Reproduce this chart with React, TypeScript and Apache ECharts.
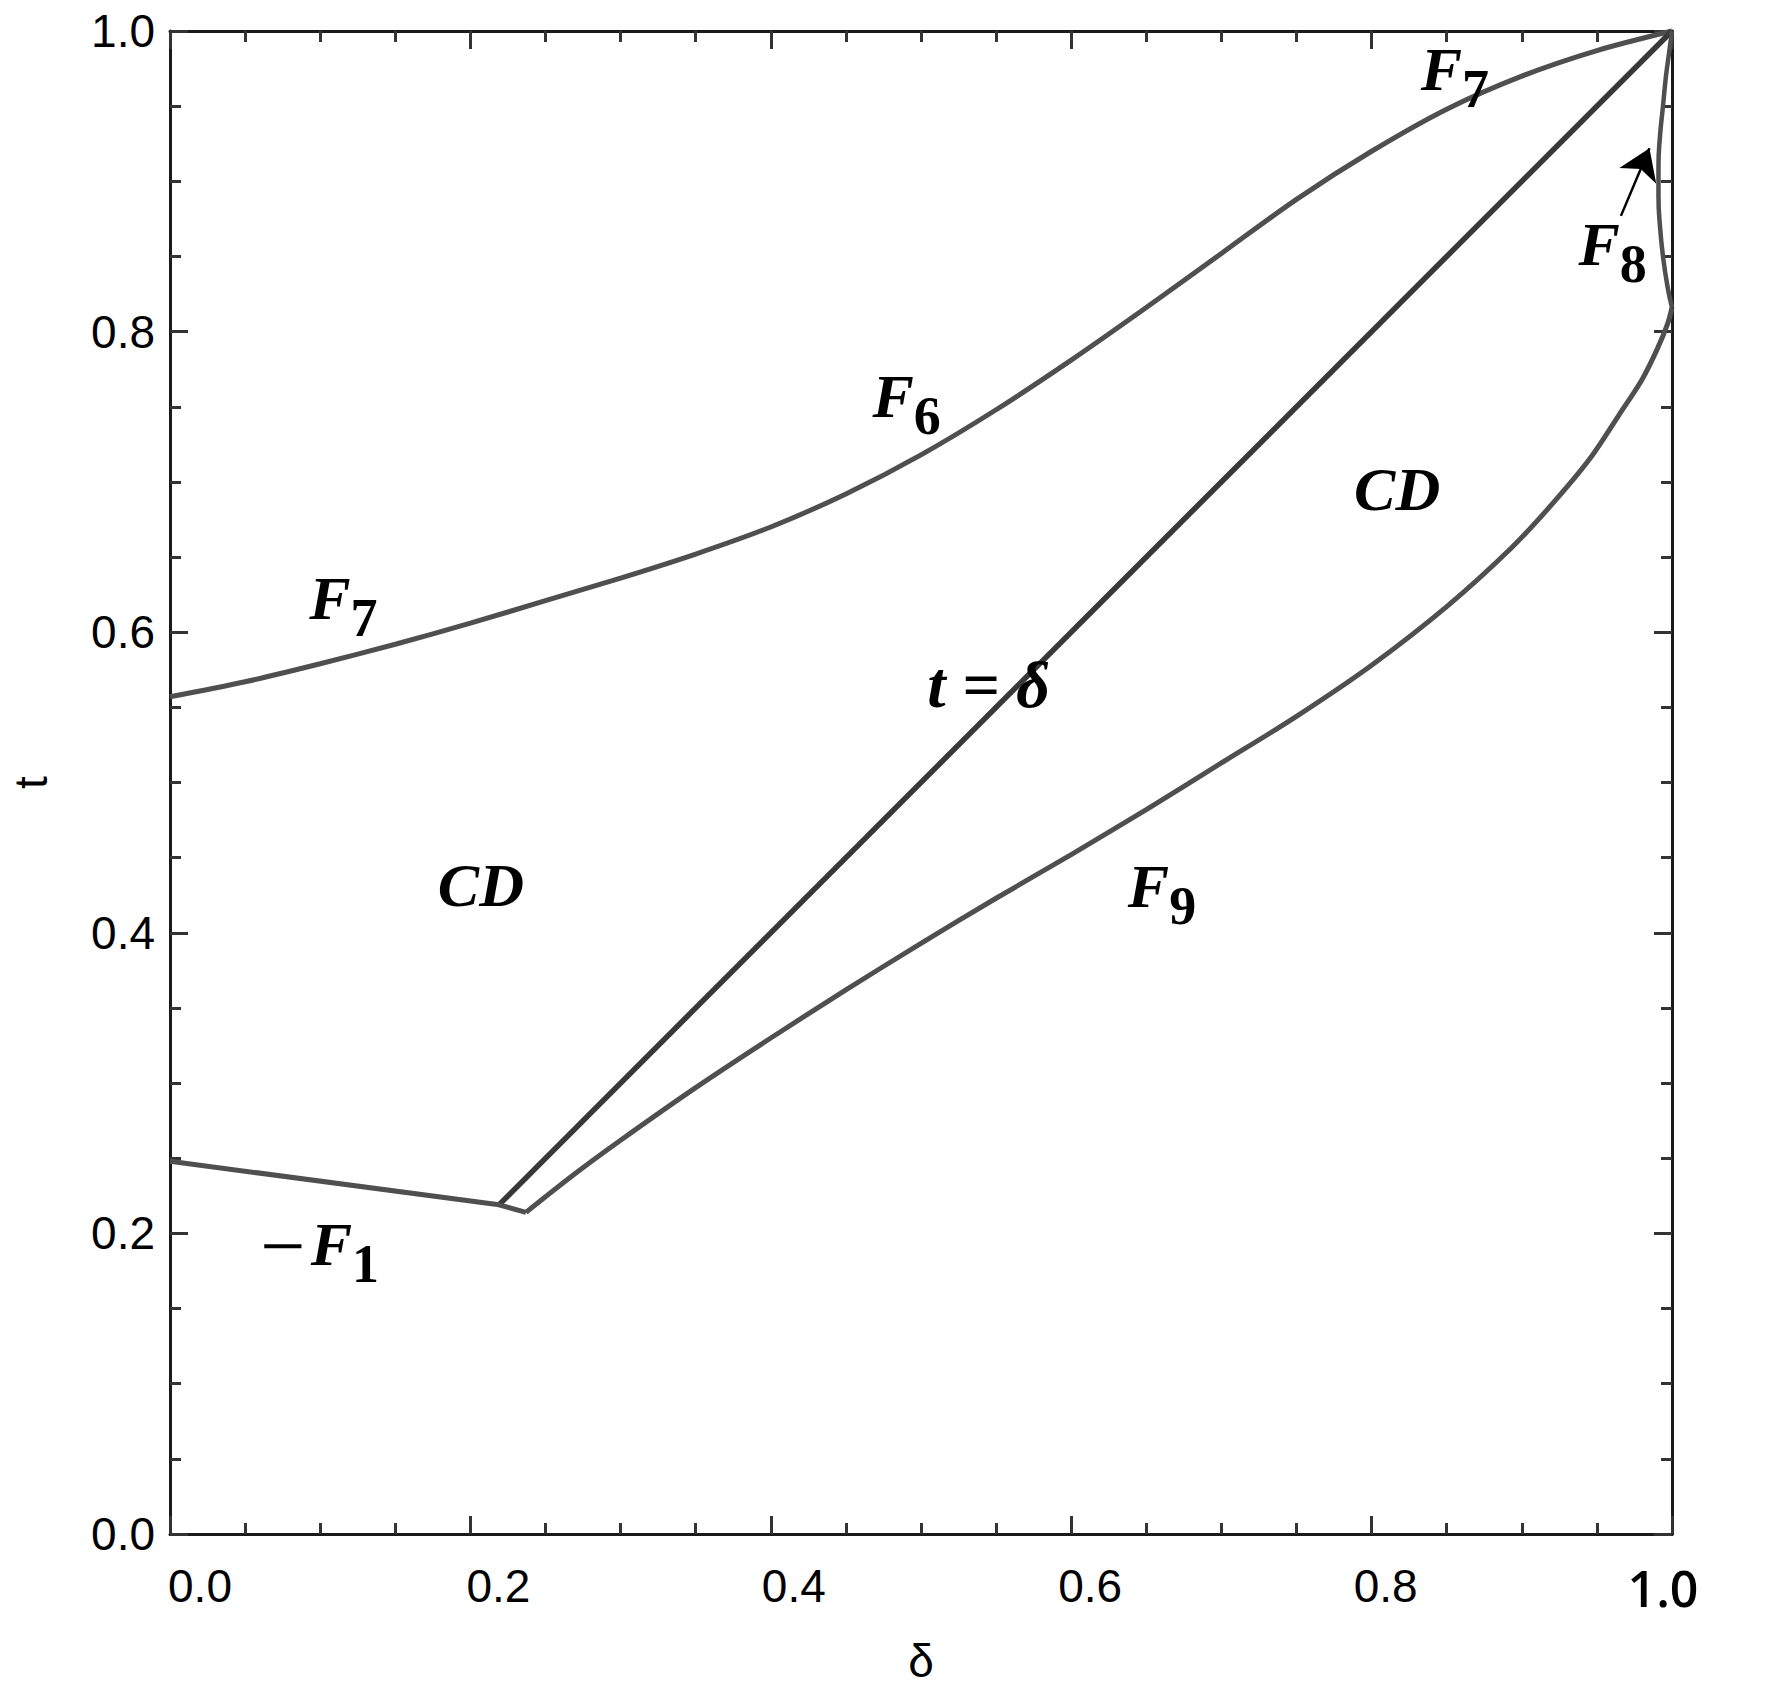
import React, { useEffect, useRef } from "react";
import * as echarts from "echarts";

// Upper boundary curve (labelled F7 / F6 / F7)
const upperDelta = [0, 0.05, 0.1, 0.15, 0.2, 0.25, 0.3, 0.35, 0.4, 0.45, 0.5, 0.55, 0.6, 0.65, 0.7, 0.75, 0.8, 0.85, 0.9, 0.95, 1.0];
const upperT = [0.557, 0.567, 0.579, 0.592, 0.606, 0.621, 0.636, 0.652, 0.67, 0.692, 0.718, 0.748, 0.781, 0.816, 0.852, 0.888, 0.92, 0.948, 0.97, 0.987, 1.0];

// Diagonal t = δ
const diagDelta = [0.219, 1.0];
const diagT = [0.219, 1.0];

// −F1 segment
const f1Delta = [0, 0.219, 0.237];
const f1T = [0.248, 0.219, 0.214];

// F9 curve
const f9Delta = [0.237, 0.27, 0.3, 0.35, 0.4, 0.45, 0.5, 0.55, 0.6, 0.65, 0.7, 0.75, 0.8, 0.85, 0.893, 0.92, 0.945, 0.965, 0.98, 0.99, 0.997, 1.0];
const f9T = [0.214, 0.24, 0.262, 0.297, 0.33, 0.362, 0.393, 0.423, 0.452, 0.482, 0.513, 0.544, 0.578, 0.617, 0.656, 0.685, 0.715, 0.745, 0.768, 0.788, 0.805, 0.816];

// F8 curve (near δ = 1)
const f8Delta = [1.0, 0.997, 0.994, 0.992, 0.991, 0.991, 0.992, 0.994, 0.996, 0.998, 1.0];
const f8T = [0.816, 0.83, 0.85, 0.87, 0.89, 0.91, 0.93, 0.95, 0.97, 0.985, 1.0];

// Arrow pointing to F8
const arrowFrom = [0.966, 0.877];
const arrowTo = [0.985, 0.922];

// Tick labels
const xTickValues = [0, 0.2, 0.4, 0.6, 0.8, 1.0];
const xTickLabels = ["0.0", "0.2", "0.4", "0.6", "0.8", "1.0"];
const xTickShift = [30, 28, 23, 19, 14, -9];
const yTickLabels = ["0.0", "0.2", "0.4", "0.6", "0.8", "1.0"];

// Annotations: main text, subscript, prefix, position (δ, t)
const annLabels = ["F", "F", "F", "F", "F", "CD", "CD", "t = δ", "F"];
const annSubs = ["7", "7", "6", "8", "9", "", "", "", "1"];
const annDelta = [0.846, 0.106, 0.481, 0.951, 0.651, 0.207, 0.817, 0.545, 0.107];
const annT = [0.975, 0.623, 0.757, 0.858, 0.431, 0.432, 0.695, 0.565, 0.193];
const annPrefix = ["", "", "", "", "", "", "", "", "−"];

const zip = (a: number[], b: number[]) => a.map((v, i) => [v, b[i]]);

const CURVE = "#4f4f4f";

export default function App() {
  const ref = useRef<HTMLDivElement>(null);
  useEffect(() => {
    if (!ref.current) return;
    const chart = echarts.init(ref.current, undefined, { renderer: "svg" });
    const rich: Record<string, any> = {};
    xTickLabels.forEach((_, i) => {
      const s = xTickShift[i];
      const last = i === xTickLabels.length - 1;
      rich["l" + i] = {
        fontSize: last ? 50 : 46,
        fontFamily: last ? "Open Sans" : "Liberation Sans",
        fontWeight: last ? 600 : "normal",
        color: "#000",
        padding: s >= 0 ? [0, 0, 0, 2 * s] : [0, -2 * s, 0, 0],
      };
    });
    const tickCommon = {
      axisLine: { show: true, onZero: false, lineStyle: { color: "#1a1a1a", width: 3 } },
      axisTick: { show: true, inside: true, length: 18, lineStyle: { color: "#333", width: 3 } },
      minorTick: { show: true, splitNumber: 4, length: 11, lineStyle: { color: "#333", width: 3 } },
      splitLine: { show: false },
      min: 0,
      max: 1,
      interval: 0.2,
    };
    const option: any = {
      animation: false,
      backgroundColor: "#fff",
      grid: { left: 168, top: 31, width: 1504, height: 1504, containLabel: false },
      xAxis: [
        {
          type: "value",
          position: "bottom",
          ...tickCommon,
          name: "δ",
          nameLocation: "middle",
          nameGap: 104,
          nameTextStyle: { fontSize: 46, fontFamily: "Liberation Sans", color: "#000" },
          axisLabel: {
            margin: 29,
            formatter: (v: number) => {
              const i = xTickValues.findIndex((x) => Math.abs(x - v) < 1e-6);
              return i >= 0 ? `{l${i}|${xTickLabels[i]}}` : "";
            },
            rich,
          },
        },
        { type: "value", position: "top", ...tickCommon, axisLabel: { show: false } },
      ],
      yAxis: [
        {
          type: "value",
          position: "left",
          ...tickCommon,
          name: "t",
          nameLocation: "middle",
          nameGap: 116,
          nameTextStyle: { fontSize: 46, fontFamily: "Liberation Sans", color: "#000" },
          axisLabel: {
            margin: 15,
            fontSize: 46,
            fontFamily: "Liberation Sans",
            color: "#000",
            formatter: (v: number) => yTickLabels[Math.round(v * 5)] ?? "",
          },
        },
        { type: "value", position: "right", ...tickCommon, axisLabel: { show: false } },
      ],
      series: [
        {
          type: "line", name: "upper", data: zip(upperDelta, upperT), showSymbol: false, smooth: 0.3, clip: false,
          lineStyle: { color: CURVE, width: 5 },
        },
        {
          type: "line", name: "diag", data: zip(diagDelta, diagT), showSymbol: false, clip: false,
          lineStyle: { color: "#383838", width: 5.5 },
        },
        {
          type: "line", name: "F1", data: zip(f1Delta, f1T), showSymbol: false, clip: false,
          lineStyle: { color: CURVE, width: 5 },
        },
        {
          type: "line", name: "F9", data: zip(f9Delta, f9T), showSymbol: false, smooth: 0.3, clip: false,
          lineStyle: { color: CURVE, width: 5 },
        },
        {
          type: "line", name: "F8", data: zip(f8Delta, f8T), showSymbol: false, smooth: 0.5, clip: false,
          lineStyle: { color: CURVE, width: 4.5 },
        },
        {
          type: "lines", coordinateSystem: "cartesian2d", xAxisIndex: 0, yAxisIndex: 0,
          symbol: ["none", "arrow"], symbolSize: 30,
          lineStyle: { color: "#000", width: 2.5, opacity: 1, curveness: 0 },
          itemStyle: { color: "#000" },
          data: [{ coords: [arrowFrom, arrowTo] }],
        },
      ],
    };
    chart.setOption(option);

    const labelRich = {
      m: { fontFamily: "Liberation Serif", fontWeight: "bold", fontStyle: "italic", fontSize: 62, lineHeight: 62, verticalAlign: "top", fill: "#000", color: "#000" },
      s: { fontFamily: "Liberation Serif", fontWeight: "bold", fontSize: 54, lineHeight: 54, padding: [24, 0, 0, 0], verticalAlign: "top", fill: "#000", color: "#000" },
    };
    const graphics: any[] = [];
    annLabels.forEach((txt, i) => {
      const p = chart.convertToPixel({ seriesIndex: 0 }, [annDelta[i], annT[i]]) as number[];
      if (annSubs[i]) {
        graphics.push({
          type: "text", x: p[0] - 20, y: p[1] - 31, z: 100,
          style: {
            text: `{m|${txt}}{s|${annSubs[i]}}`,
            rich: labelRich,
            fill: "#000",
            align: "left", verticalAlign: "top", textAlign: "left", textVerticalAlign: "top",
          },
        });
      } else {
        const size = txt === "t = δ" ? 66 : 62;
        graphics.push({
          type: "text", x: p[0], y: p[1], z: 100,
          style: { text: txt, font: `bold italic ${size}px "Liberation Serif"`, fill: "#000", align: "center", verticalAlign: "middle", textAlign: "center", textVerticalAlign: "middle" },
        });
      }
      if (annPrefix[i]) {
        graphics.push({
          type: "text", x: p[0] - 48, y: p[1] + 2, z: 100,
          style: { text: annPrefix[i], font: '80px "Liberation Serif"', fill: "#000", align: "center", verticalAlign: "middle", textAlign: "center", textVerticalAlign: "middle" },
        });
      }
    });
    chart.setOption({ graphic: graphics });
    return () => chart.dispose();
  }, []);
  return <div ref={ref} style={{ position: "absolute", left: 0, top: 0, width: 1784, height: 1689 }} />;
}
